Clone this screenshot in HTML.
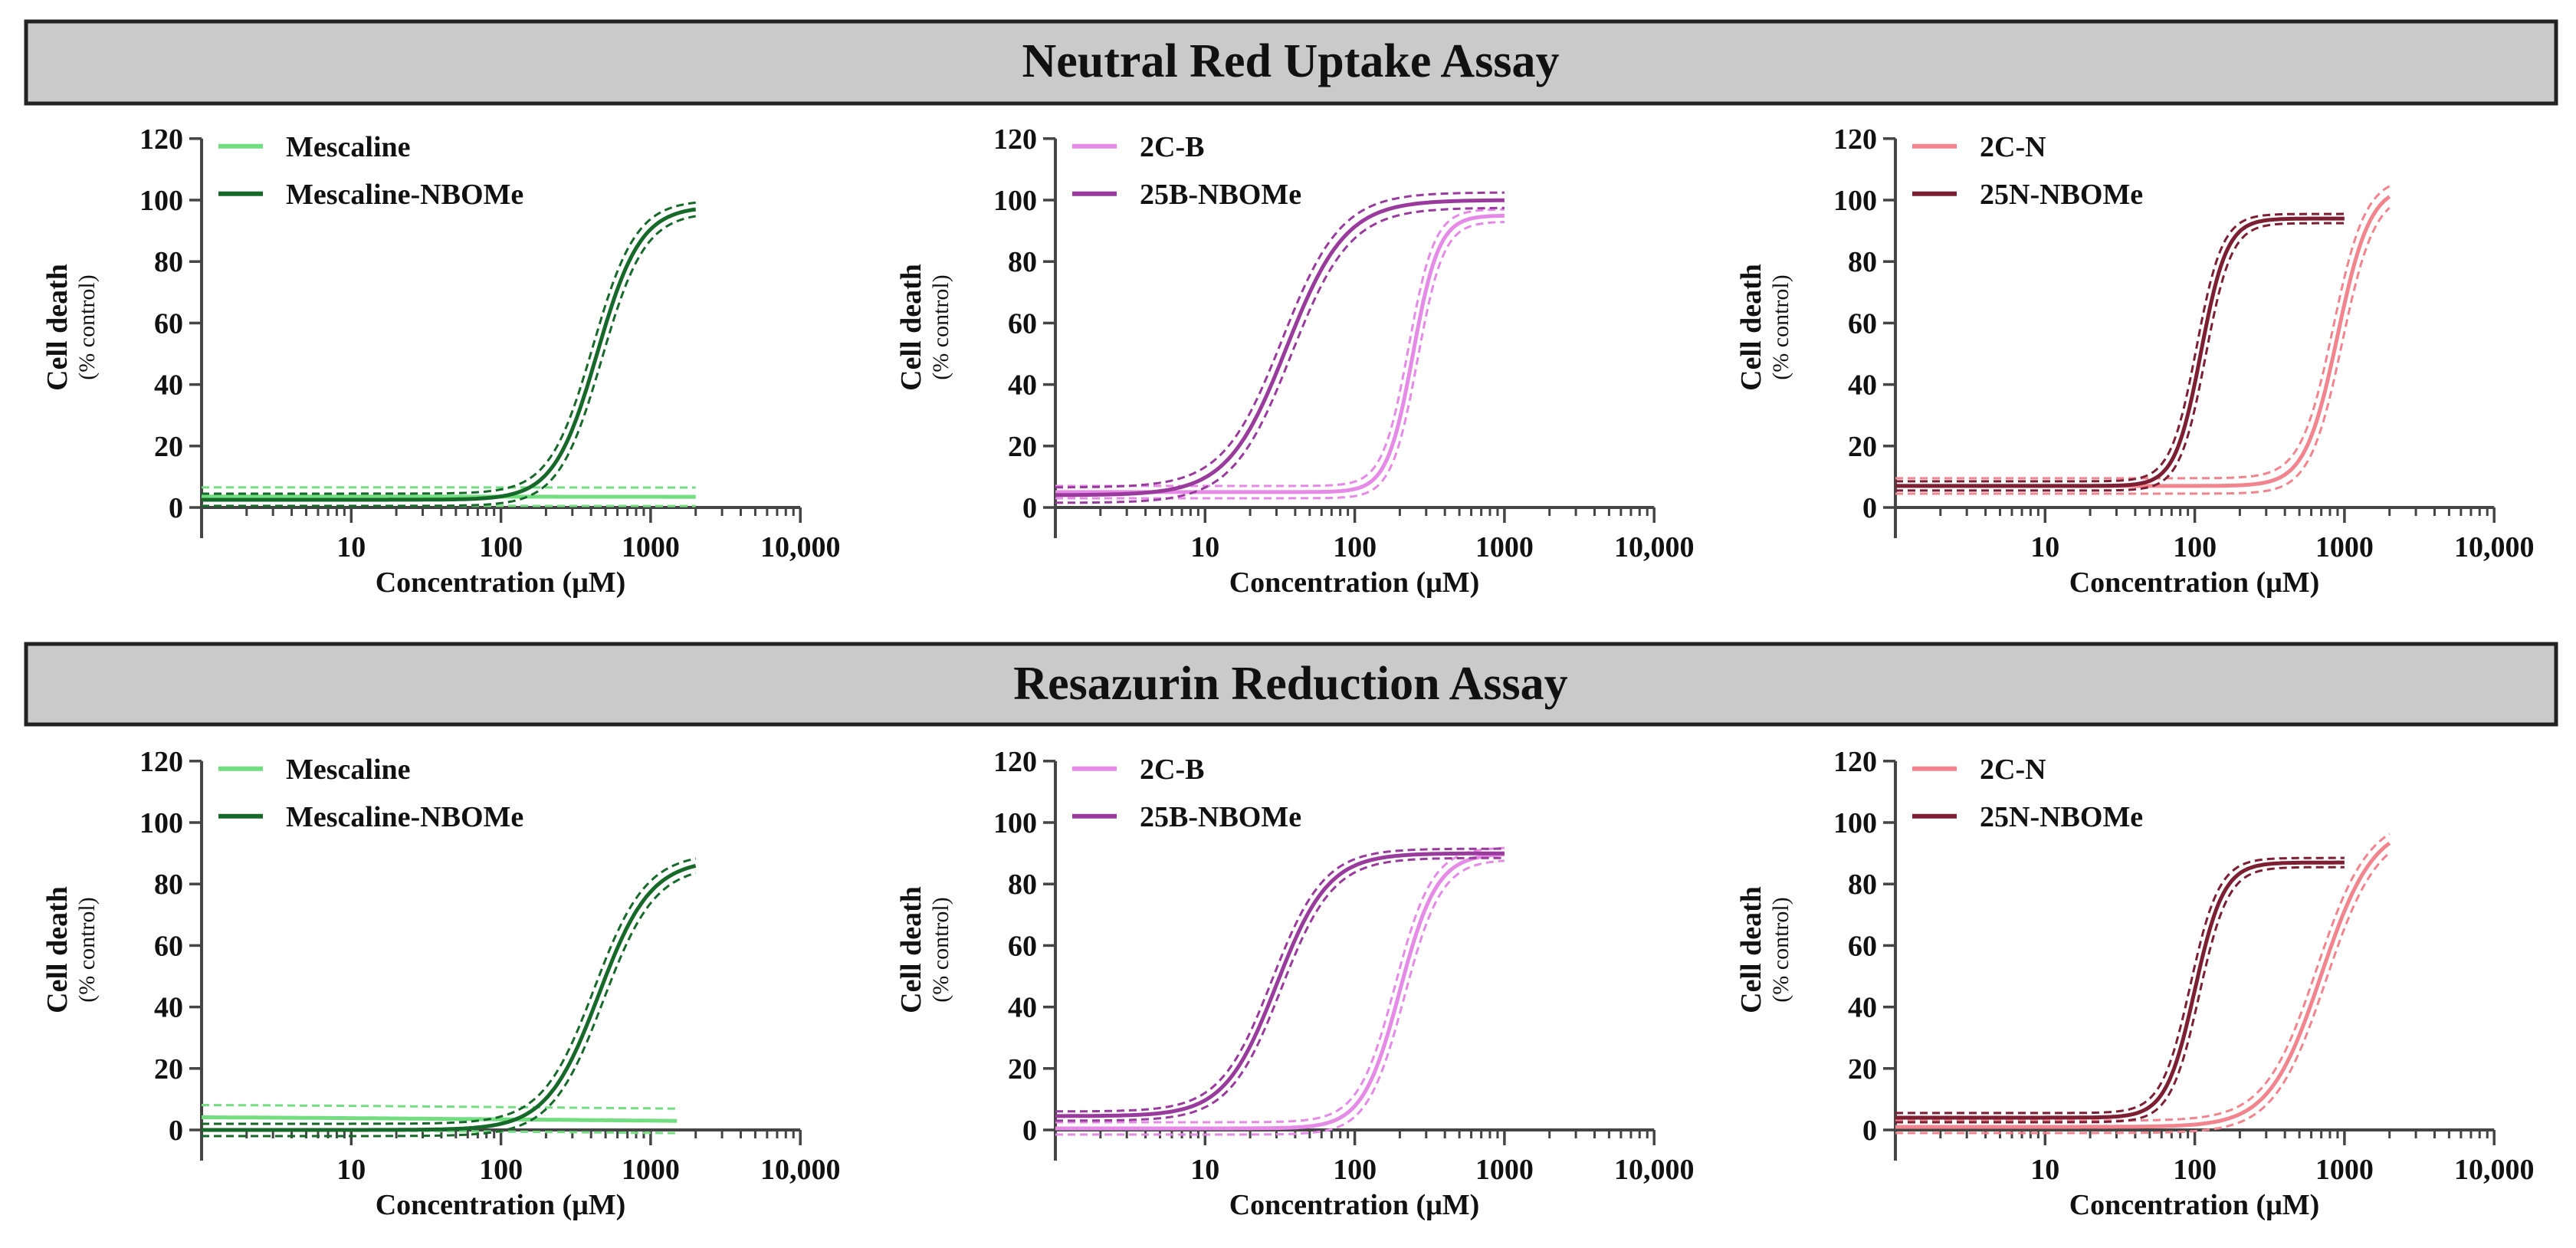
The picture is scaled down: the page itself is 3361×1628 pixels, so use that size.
<!DOCTYPE html>
<html><head><meta charset="utf-8">
<style>
html,body{margin:0;padding:0;background:#fff;}
svg{display:block;font-family:"Liberation Serif",serif;}
</style></head>
<body>
<svg id="fig" width="3361" height="1628" viewBox="0 0 3361 1628" xmlns="http://www.w3.org/2000/svg">
  <g>
    <rect x="34" y="28" width="3301" height="107" fill="#cacaca" stroke="#222" stroke-width="5"/>
    <text x="1684" y="100" text-anchor="middle" font-size="62" font-weight="bold" fill="#111">Neutral Red Uptake Assay</text>
  </g>
  <g>
    <rect x="34" y="840" width="3301" height="105" fill="#cacaca" stroke="#222" stroke-width="5"/>
    <text x="1684" y="912" text-anchor="middle" font-size="62" font-weight="bold" fill="#111">Resazurin Reduction Assay</text>
  </g>
  <g id="plots"></g>
</svg>
<script>
// Panel layout (not data)
const panelX0 = [263, 1377, 2473];
const rowY0 = [662, 1474];

// Legend names per panel
const legendA = ["Mescaline", "2C-B", "2C-N"];
const legendB = ["Mescaline-NBOMe", "25B-NBOMe", "25N-NBOMe"];
const colorA = ["#72de80", "#e58ae6", "#f2848e"];
const colorB = ["#17692a", "#993a9d", "#7c1f33"];

// Axis ticks
const yTicks = [0, 20, 40, 60, 80, 100, 120];
const xTickVals = [10, 100, 1000, 10000];
const xTickLabels = ["10", "100", "1000", "10,000"];

// Fitted curve parameters (4PL): [row][panel]
// Series A (parent compound)
const aBottom = [[3.6, 5, 7], [4.5, 0.5, 1]];
const aTop    = [[3.4, 95, 105], [2.0, 90, 100]];
const aEC50   = [[300, 245, 900], [300, 200, 700]];
const aHill   = [[0.3, 5, 4], [0.3, 3.5, 2.5]];
const aXmax   = [[2000, 1000, 2000], [1500, 1000, 2000]];
// Series B (NBOMe)
const bBottom = [[2.5, 4, 7], [0, 4.5, 4]];
const bTop    = [[98, 100, 94], [88, 90, 87]];
const bEC50   = [[440, 35, 110], [450, 30, 100]];
const bHill   = [[3, 2.2, 5], [2.5, 2.5, 4.5]];
const bXmax   = [[2000, 1000, 1000], [2000, 1000, 1000]];
// CI half-width in % units
const aCI = [[3, 2, 2.5], [4, 2, 2]];
const bCI = [[2, 2.5, 1.5], [2, 1.5, 1.5]];

const NS = "http://www.w3.org/2000/svg";
const DEC = 195.3, UNIT = 4.01;
function mk(tag, attrs, parent){ const e=document.createElementNS(NS,tag); for(const k in attrs) e.setAttribute(k,attrs[k]); parent.appendChild(e); return e; }
function fourPL(x,b,t,ec,h){ return b + (t-b)/(1+Math.pow(ec/x,h)); }

const root = document.getElementById("plots");
for(let r=0;r<2;r++){
  for(let p=0;p<3;p++){
    const x0=panelX0[p], y0=rowY0[r];
    const sx = v => x0 + Math.log10(v)*DEC;
    const sy = v => y0 - v*UNIT;
    const g = mk("g",{},root);
    
    
    // y axis
    const ya = mk("line",{x1:x0,y1:sy(120),x2:x0,y2:y0+40,stroke:"#444","stroke-width":4},g);
    
    
    yTicks.forEach(v=>{
      mk("line",{x1:x0-16,y1:sy(v),x2:x0,y2:sy(v),stroke:"#444","stroke-width":3.5},g);
      const t=mk("text",{x:x0-24,y:sy(v)+13,"text-anchor":"end","font-size":38,"font-weight":"bold",fill:"#111"},g);
      t.textContent=v;
      
      
    });
    // x axis
    const xa = mk("line",{x1:x0,y1:y0,x2:sx(10000),y2:y0,stroke:"#444","stroke-width":4},g);
    
    
    for(let d=0;d<4;d++){ for(let m=2;m<=9;m++){ const xv=sx(m*Math.pow(10,d)); mk("line",{x1:xv,y1:y0,x2:xv,y2:y0+11,stroke:"#444","stroke-width":3},g);} }
    xTickVals.forEach((v,i)=>{
      mk("line",{x1:sx(v),y1:y0,x2:sx(v),y2:y0+20,stroke:"#444","stroke-width":3.5},g);
      const t=mk("text",{x:sx(v),y:y0+64,"text-anchor":"middle","font-size":38,"font-weight":"bold",fill:"#111"},g);
      t.textContent=xTickLabels[i];
      
      
    });
    const xt=mk("text",{x:x0+390,y:y0+110,"text-anchor":"middle","font-size":38,"font-weight":"bold",fill:"#111"},g);
    xt.textContent="Concentration (\u03BCM)";
    
    
    const yt=mk("text",{transform:`translate(${x0-176},${y0-235}) rotate(-90)`,"text-anchor":"middle","font-size":38,"font-weight":"bold",fill:"#111"},g);
    yt.textContent="Cell death";
    
    
    const ys=mk("text",{transform:`translate(${x0-140},${y0-235}) rotate(-90)`,"text-anchor":"middle","font-size":30,fill:"#111"},g);
    ys.textContent="(% control)";
    
    
    // curves
    const series=[
      {b:aBottom[r][p],t:aTop[r][p],ec:aEC50[r][p],h:aHill[r][p],xm:aXmax[r][p],c:colorA[p],ci:aCI[r][p],n:'curve-'+legendA[p].toLowerCase()},
      {b:bBottom[r][p],t:bTop[r][p],ec:bEC50[r][p],h:bHill[r][p],xm:bXmax[r][p],c:colorB[p],ci:bCI[r][p],n:'curve-'+legendB[p].toLowerCase()}
    ];
    series.forEach(s=>{
      const lmax=Math.log10(s.xm);
      [[-1,1.1],[1,1.1],[0,0]].forEach(([sg,fac])=>{
        let d="";
        for(let i=0;i<=200;i++){
          const lx=lmax*i/200, x=Math.pow(10,lx);
          const ec=s.ec*Math.pow(10,-sg*0.03);
          const y=fourPL(x,s.b+sg*s.ci,s.t+sg*s.ci,ec,s.h);
          d+=(i?"L":"M")+sx(x).toFixed(1)+","+sy(y).toFixed(1);
        }
        const path=mk("path",{d:d,fill:"none",stroke:s.c,"stroke-width":sg===0?5:3,"stroke-dasharray":sg===0?"none":"10,6"},g);
        
        
      });
    });
    // legend
    [[legendA[p],colorA[p],sy(120)+10],[legendB[p],colorB[p],sy(120)+72]].forEach(([lab,col,ly])=>{
      const lg=mk("g",{},g);
      
      
      mk("line",{x1:x0+22,y1:ly,x2:x0+80,y2:ly,stroke:col,"stroke-width":6},lg);
      const t=mk("text",{x:x0+110,y:ly+13,"font-size":38,"font-weight":"bold",fill:"#111"},lg);
      t.textContent=lab;
    });
  }
}
</script>
</body></html>
